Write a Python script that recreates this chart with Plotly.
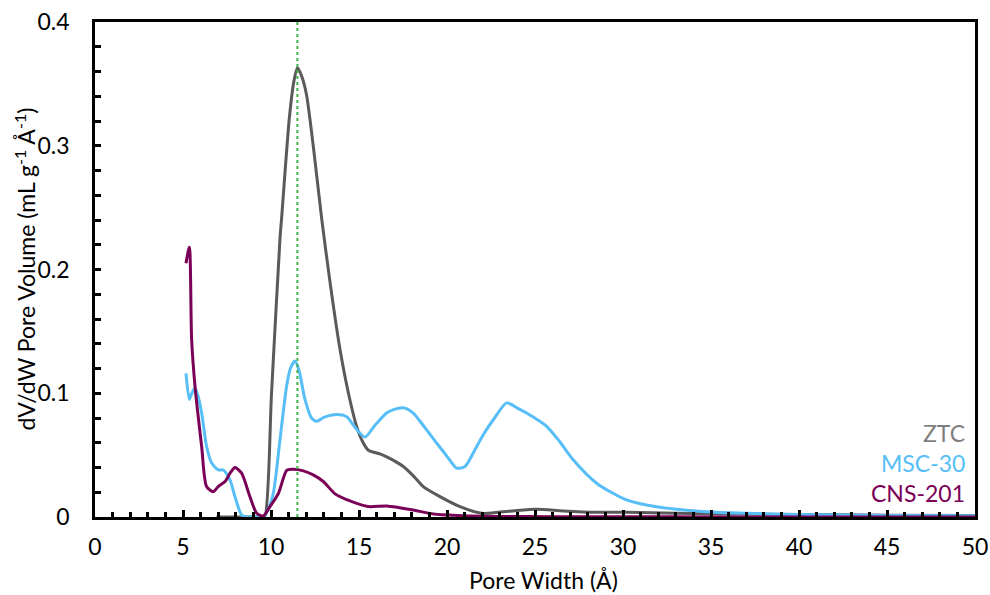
import plotly.graph_objects as go

# ---- data ----
ztc_x = [6.9, 8.0, 9.0, 9.5, 9.66, 10.03, 10.51, 10.6, 11.04, 11.3, 11.5, 11.75, 12.02, 12.4, 12.88,
         13.4, 13.92, 14.4, 14.87, 15.2, 15.53, 16.19, 16.8, 17.52, 18.1, 18.65, 19.6, 20.74,
         21.97, 23.0, 23.75, 25.1, 26.6, 28.5, 30.2, 33.0, 36.0, 40.0, 45.0, 50.0]
ztc_y = [0, 0, 0, 0, 0.001, 0.100, 0.225, 0.241, 0.322, 0.352, 0.363, 0.356, 0.341, 0.30, 0.241,
         0.185, 0.1355, 0.10, 0.073, 0.061, 0.054, 0.051, 0.047, 0.0408, 0.033, 0.0246, 0.0165, 0.0084,
         0.003, 0.004, 0.0049, 0.0062, 0.0049, 0.0038, 0.0038, 0.003, 0.0025, 0.002, 0.0015, 0.0012]

msc_x = [5.17, 5.36, 5.5, 5.68, 5.85, 6.06, 6.34, 6.63, 7.0, 7.28, 7.67, 7.95, 8.33, 8.6, 9.0, 9.56,
         9.8, 10.13, 10.51, 10.89, 11.1, 11.36, 11.6, 11.93, 12.3, 12.6, 13.0, 13.73, 14.3, 14.8,
         15.34, 15.9, 16.57, 17.0, 17.52, 18.08, 18.7, 19.41, 20.0, 20.55, 21.02, 21.5, 22.06, 22.7,
         23.39, 24.0, 24.52, 25.66, 26.4, 27.17, 28.5, 30.2, 32.0, 35.0, 40.0, 45.0, 50.0]
msc_y = [0.116, 0.095, 0.1, 0.104, 0.098, 0.084, 0.057, 0.0436, 0.038, 0.038, 0.030, 0.0165, 0.0016,
         0, 0, 0, 0.005, 0.019, 0.0625, 0.106, 0.12, 0.126, 0.118, 0.095, 0.080, 0.0774, 0.0805,
         0.0828, 0.081, 0.072, 0.0646, 0.074, 0.0841, 0.087, 0.0882, 0.084, 0.073, 0.0598, 0.049,
         0.0395, 0.0408, 0.052, 0.0665, 0.080, 0.0922, 0.088, 0.084, 0.0733, 0.061, 0.0462, 0.0273,
         0.0138, 0.008, 0.004, 0.002, 0.0012, 0.001]

cns_x = [5.17, 5.36, 5.49, 5.68, 6.06, 6.34, 6.72, 7.0, 7.39, 7.7, 7.95, 8.33, 8.8, 9.19, 9.56,
         9.94, 10.42, 10.89, 11.2, 11.84, 12.4, 12.97, 13.64, 14.3, 14.87, 15.53, 16.57, 17.3,
         18.08, 19.22, 20.93, 23.0, 26.0, 30.0, 35.0, 40.0, 45.0, 50.0]
cns_y = [0.205, 0.218, 0.1436, 0.106, 0.057, 0.0246, 0.0205, 0.0246, 0.0287, 0.036, 0.040, 0.0354,
         0.0165, 0.003, 0.0008, 0.0084, 0.019, 0.0376, 0.0385, 0.0373, 0.034, 0.0287, 0.0187, 0.014,
         0.011, 0.0084, 0.0089, 0.0075, 0.0057, 0.0024, 0.001, 0.0005, 0.0003, 0.0002, 0.0001,
         0.0001, 0.0001, 0.0001]

marker_x = 11.5
x_ticks = [0, 5, 10, 15, 20, 25, 30, 35, 40, 45, 50]
y_ticks = [0, 0.1, 0.2, 0.3, 0.4]
y_ticktext = ["0", "0.1", "0.2", "0.3", "0.4"]
x_title = "Pore Width (Å)"
y_title = "dV/dW Pore Volume (mL g<sup>-1</sup> Å<sup>-1</sup>)"

series = [
    ("ZTC", ztc_x, ztc_y, "#5a5a5a", "#7f7f7f", 0.068),
    ("MSC-30", msc_x, msc_y, "#57bef7", "#57bef7", 0.0438),
    ("CNS-201", cns_x, cns_y, "#7a0057", "#7a0057", 0.0195),
]

FONT = "Lato, Open Sans, sans-serif"
FS = 23

fig = go.Figure()
for name, xs, ys, col, tcol, ly in series:
    fig.add_trace(go.Scatter(x=xs, y=ys, mode="lines", name=name,
                             line=dict(color=col, width=3, shape="spline", smoothing=0.7)))

fig.add_shape(type="line", x0=marker_x, x1=marker_x, y0=0, y1=0.4, xref="x", yref="y",
              line=dict(color="#3cb44b", width=2, dash="dot"))

for name, xs, ys, col, tcol, ly in series:
    fig.add_annotation(x=0.991, xref="paper", y=ly, yref="y", text=name, showarrow=False,
                       xanchor="right", yanchor="middle",
                       font=dict(family=FONT, size=FS, color=tcol))

# axis titles as positioned annotations
fig.add_annotation(x=0.51, xref="paper", y=-0.127, yref="paper", text=x_title, showarrow=False,
                   xanchor="center", yanchor="middle", font=dict(family=FONT, size=FS, color="black"))
fig.add_annotation(x=-0.0795, xref="paper", y=0.5, yref="paper", text=y_title, showarrow=False,
                   textangle=-90, xanchor="center", yanchor="middle",
                   font=dict(family=FONT, size=FS, color="black"))

fig.update_layout(
    width=990, height=595,
    margin=dict(l=95, r=15, t=22, b=78),
    paper_bgcolor="white", plot_bgcolor="white",
    showlegend=False,
    font=dict(family=FONT, size=FS, color="black"),
    xaxis=dict(range=[0, 50], tickvals=x_ticks, ticks="inside", ticklen=7, tickwidth=2.5,
               tickcolor="black", showline=True, linecolor="black", linewidth=2.5, mirror=True,
               showgrid=False, zeroline=False, automargin=False, ticklabelstandoff=8,
               tickfont=dict(family=FONT, size=FS),
               minor=dict(dtick=1, ticks="inside", ticklen=5, tickwidth=2.5, tickcolor="black",
                          showgrid=False)),
    yaxis=dict(range=[0, 0.4], tickvals=y_ticks, ticktext=y_ticktext, ticks="inside", ticklen=6,
               tickwidth=2.5, tickcolor="black", showline=True, linecolor="black", linewidth=2.5,
               mirror=True, showgrid=False, zeroline=False, automargin=False, ticklabelstandoff=18,
               tickfont=dict(family=FONT, size=FS),
               minor=dict(dtick=0.02, ticks="inside", ticklen=6, tickwidth=2.5, tickcolor="black",
                          showgrid=False)),
)

fig.write_html("out.html")
